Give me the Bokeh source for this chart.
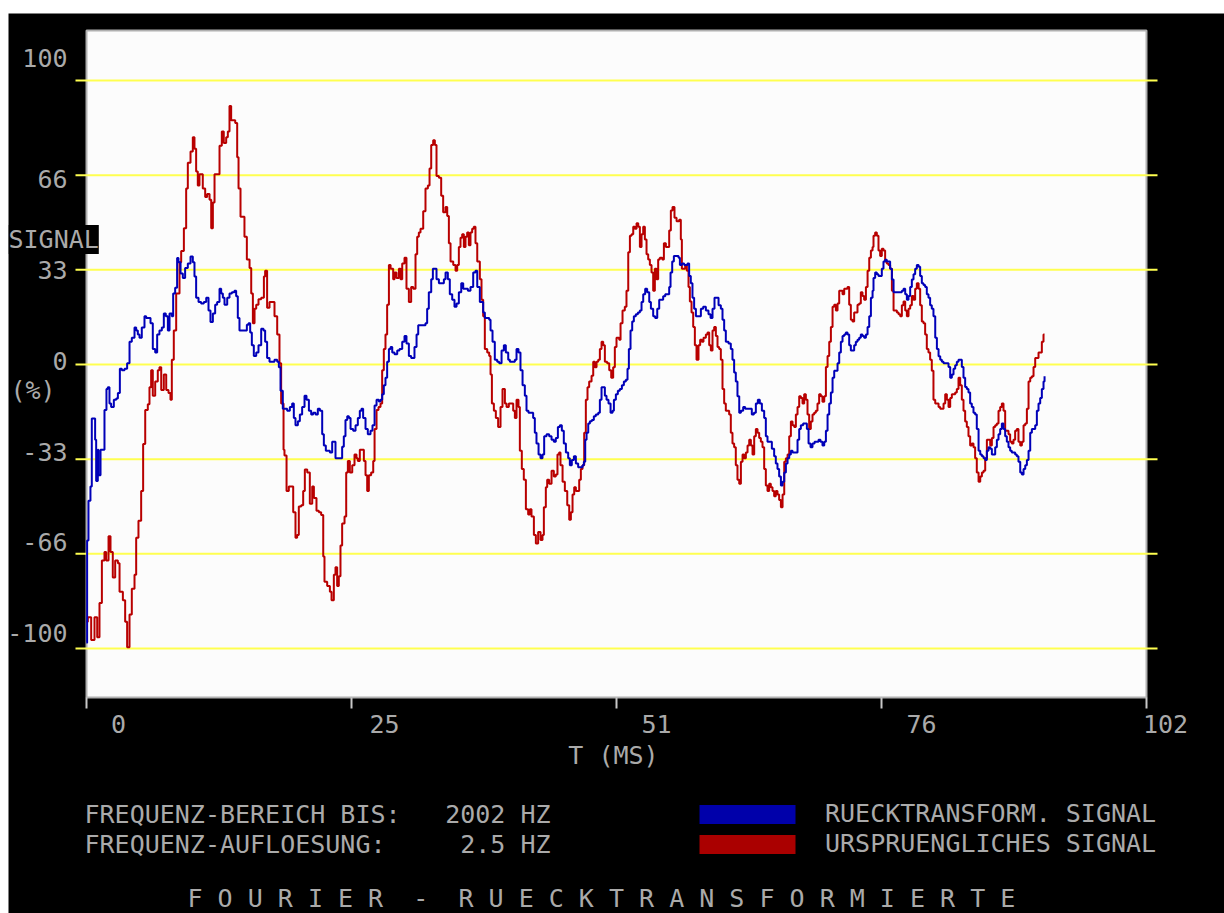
from bokeh.plotting import figure
from bokeh.models import Label, Legend, LegendItem, Range1d, Spacer
from bokeh.layouts import column, row
from bokeh.embed import file_html
from bokeh.resources import INLINE

# ---------------- data (time in ms, signal in %) ----------------
RED_T = [0.0, 0.13, 0.45, 0.77, 1.03, 1.25, 1.48, 1.73, 1.89, 2.12, 2.31, 2.53, 2.76, 3.02, 3.18, 3.50, 3.72, 3.91, 4.14, 4.36,
         4.62, 4.78, 5.00, 5.26, 5.45, 5.65, 5.90, 6.06, 6.22, 6.38, 6.61, 6.86, 7.02, 7.19, 7.44, 7.67, 7.89, 8.08, 8.21, 8.40,
         8.63, 8.95, 9.11, 9.37, 9.59, 9.75, 10.01, 10.23, 10.39, 10.55, 10.71, 10.87, 11.03, 11.19, 11.42, 11.61, 11.84, 12.00, 12.16, 12.32,
         12.64, 12.80, 13.02, 13.21, 13.44, 13.60, 13.76, 13.92, 14.15, 14.31, 14.50, 14.63, 14.82, 15.04, 15.20, 15.43, 15.69, 15.85, 16.01, 16.17,
         16.33, 16.55, 16.81, 17.07, 17.19, 17.38, 17.61, 17.83, 18.09, 18.35, 18.57, 18.73, 18.96,
         19.05, 19.25, 19.47, 19.70, 19.89, 20.11, 20.27, 20.43, 20.66, 20.85, 21.01, 21.24, 21.49, 21.72, 21.88, 22.13, 22.36, 22.58, 22.78, 22.90,
         23.16, 23.42, 23.58, 23.80, 23.96, 24.12, 24.28, 24.44, 24.60, 24.83, 24.99, 25.15, 25.34, 25.57, 25.79, 25.98, 26.11, 26.30, 26.53, 26.69,
         26.85, 27.01, 27.17, 27.39, 27.59, 27.72, 27.91, 28.10, 28.29, 28.45, 28.61, 28.77, 28.93, 29.10, 29.26, 29.51, 29.64, 29.83, 30.06, 30.22,
         30.38, 30.60, 30.79, 31.02, 31.24, 31.44, 31.66, 31.82, 31.98, 32.14, 32.40, 32.62, 32.85, 33.01, 33.17, 33.36, 33.52, 33.68, 33.91, 34.13,
         34.32, 34.55, 34.71, 34.87, 35.03, 35.29, 35.51, 35.67, 35.83, 35.99, 36.15, 36.31, 36.47, 36.63, 36.79, 36.95, 37.11, 37.27, 37.43, 37.60,
         37.85,
         38.01, 38.17, 38.33, 38.56, 38.75, 38.88, 39.01, 39.20, 39.39, 39.61, 39.84, 40.03, 40.26, 40.42, 40.64, 40.83, 41.06, 41.22, 41.38, 41.57,
         41.70, 41.89, 42.08, 42.28, 42.50, 42.66, 42.82, 43.05, 43.24, 43.46, 43.69, 43.88, 44.01, 44.20, 44.33, 44.52, 44.75, 44.97, 45.16, 45.32,
         45.48, 45.61, 45.81, 46.03, 46.26, 46.45, 46.61, 46.77, 46.93, 47.09, 47.25, 47.41, 47.57, 47.73, 47.89, 48.05, 48.21, 48.37, 48.60, 48.76,
         48.92, 49.08, 49.24, 49.40, 49.56, 49.72, 49.88, 50.10, 50.30, 50.49, 50.68, 50.84, 51.00, 51.26, 51.39, 51.58, 51.80, 51.96, 52.13, 52.29,
         52.45, 52.61, 52.77, 52.93, 53.09, 53.25, 53.41, 53.57, 53.73, 53.89, 54.05, 54.21, 54.37, 54.53, 54.69, 54.85, 55.01, 55.17, 55.40, 55.56,
         55.75, 55.91, 56.07, 56.23, 56.39, 56.58, 56.78,
         57.03, 57.19, 57.29, 57.45, 57.61, 57.77, 57.93, 58.06, 58.22, 58.38, 58.54, 58.70, 58.89, 59.05, 59.21, 59.37, 59.60, 59.76, 59.92, 60.08,
         60.24, 60.40, 60.56, 60.72, 60.88, 61.04, 61.20, 61.36, 61.52, 61.68, 61.84, 62.00, 62.16, 62.32, 62.48, 62.64, 62.81, 62.97, 63.13, 63.29,
         63.45, 63.61, 63.77, 63.93, 64.09, 64.25, 64.41, 64.57, 64.73, 64.89, 65.05, 65.21, 65.37, 65.53, 65.69, 65.85, 66.01, 66.17, 66.33, 66.49,
         66.65, 66.82, 66.98, 67.14, 67.30, 67.46, 67.62, 67.78, 67.94, 68.10, 68.26, 68.42, 68.58, 68.74, 68.90, 69.06, 69.22, 69.38, 69.54, 69.70,
         69.86, 70.02, 70.18, 70.34, 70.50, 70.66, 70.82, 70.99, 71.15, 71.31, 71.47, 71.63, 71.79, 71.95, 72.11, 72.27, 72.43, 72.59, 72.75, 72.91,
         73.07, 73.23, 73.39, 73.55, 73.71, 73.87, 74.03, 74.19, 74.35, 74.51, 74.67, 74.83, 75.00, 75.16, 75.32, 75.48, 75.64,
         75.73, 75.89, 76.05, 76.21, 76.37, 76.53, 76.69, 76.85, 77.01, 77.17, 77.33, 77.50, 77.66, 77.82, 77.98, 78.14, 78.30, 78.46, 78.62, 78.78,
         78.94, 79.10, 79.26, 79.42, 79.58, 79.74, 79.90, 80.07, 80.22, 80.38, 80.54, 80.70, 80.86, 81.02, 81.18, 81.34, 81.50, 81.67, 81.83, 81.99,
         82.15, 82.31, 82.47, 82.63, 82.79, 82.95, 83.11, 83.27, 83.43, 83.59, 83.75, 83.91, 84.07, 84.23, 84.39, 84.55, 84.71, 84.87, 85.03, 85.19,
         85.35, 85.51, 85.67, 85.84, 86.00, 86.16, 86.32, 86.48, 86.64, 86.80, 86.96, 87.12, 87.28, 87.44, 87.60, 87.76, 87.92, 88.08, 88.24, 88.40,
         88.56, 88.72, 88.88, 89.04, 89.20, 89.36, 89.52, 89.68, 89.85, 90.01, 90.17, 90.33, 90.49, 90.65, 90.81, 90.97, 91.13, 91.29, 91.45, 91.61,
         91.77, 91.93, 92.09, 92.19]

RED_V = [-90.6, -89, -97, -89, -96, -84, -69, -66, -69, -60.5, -66, -75, -69, -70, -80, -83, -90.6, -99.6, -88, -79,
         -74, -61, -55, -44.5, -28, -16, -14, -8, -2, -11, -6, -2, -1, -9, -3.5, -9, -10, -12.4, 1.7, 12,
         25, 36, 40, 48, 62, 71, 75, 80, 76, 68, 63, 67, 67, 62, 59, 60, 58, 48, 57, 67,
         67, 77, 82, 78, 80, 82, 91, 86, 86, 85, 73, 62, 52, 52, 45, 37, 34, 25, 14.5, 19.6,
         21, 23, 23.5, 31, 33, 20, 22, 22, 17, 10.6, 0.4, -13.7, -30,
         -32, -44.5, -43, -43, -52, -61, -60, -50, -49.6, -44.5, -37, -38, -49, -43, -47, -51.5, -52, -53, -67.6, -76.5,
         -78, -80, -83, -74, -71.4, -78, -74.6, -63.7, -56, -53.5, -38, -34, -38, -35.5, -31.7, -33, -34, -30, -30, -34,
         -39, -44.5, -39, -38, -34, -22.7, -16, -15, -13.7, -2, 5.5, 10.6, 21, 35, 33.7, 30, 32.4, 30.5, 33.7, 30,
         35.6, 37.6, 26.7, 22, 27.3, 26.7, 38.8, 45, 46.5, 47.8, 54, 62, 63, 69, 77.3, 79, 77.3, 66.4, 65.8, 59.4,
         53.6, 55.5, 52.3, 42.7, 36.3, 35, 33, 35, 41.4, 44.6, 45.9, 41.4, 45, 46.5, 42, 46.5, 47.8, 48.5, 42.7, 36.3,
         30,
         22.8, 17, 5.5, 4.2, 3, -3.5, -13.7, -16.3, -18.8, -22, -15, -8.6, -13.7, -15, -13.7, -13.7, -16.3, -18.8, -12.4, -15,
         -30.4, -36.8, -40.6, -51, -52.8, -51, -53.5, -60, -63, -59, -61.8, -60, -50.3, -43.2, -40.6, -42, -37.4, -39.4, -38.7, -31.7,
         -31, -35.5, -41.3, -44.5, -49.6, -54.7, -52, -45.8, -43.2, -44.5, -44.5, -40.6, -36.8, -35.5, -24, -12.4, -8, -6, -4, 1,
         -1, 1, 1.7, 5.5, 8, 6.8, 1, 0.4, -2, -4.7, -1, 6.2, 9.4, 8.7, 14.5, 19, 20.3, 26, 39.5, 45.3,
         45.9, 48.5, 47.8, 49.7, 48.5, 41.4, 45.9, 48.5, 44, 38.8, 37, 35, 32.4, 26, 33.7, 30, 37, 37.6, 37, 42.7,
         41.4, 41.4, 47.2, 54.2, 55.5, 51.7, 50.4,
         51, 44, 33.7, 33.7, 35, 33, 27.3, 22.2, 18.3, 13.2, 6.8, 1.7, 6.8, 8.7, 8, 9.4, 10.6, 11.3, 6.8, 4.9,
         12, 13.2, 10, 6.2, 5.5, 1.7, -8.6, -13.7, -16.3, -16.3, -17.6, -24, -27.8, -29.1, -35.5, -40.6, -42, -34.2, -31.7, -33,
         -31, -28.5, -26.5, -28.5, -31.7, -25.3, -22.7, -24, -25.9, -27.2, -29.1, -36.8, -42.6, -44.5, -42, -43.2, -44.5, -46.4, -44.5, -45.8,
         -47.7, -50.3, -45.8, -34.2, -33, -31.7, -25.3, -20.1, -21.4, -22, -17.6, -15, -11.2, -11.8, -13.7, -10.5, -12.4, -17.6, -22.7, -20.1,
         -17.6, -17, -16.3, -13.7, -10.5, -11.2, -13.1, -11.2, -0.9, 3, 8, 13.2, 20.3, 21, 19, 21.5, 26, 26, 24.7, 26.7,
         26.7, 27.3, 21, 15.8, 15.1, 18.3, 18.3, 21, 21.5, 25.4, 24.1, 22.8, 27.3, 33, 37.6, 40.1, 41.4,
         45.3, 46.5, 45.3, 40.1, 38.2, 40.8, 40.1, 36.3, 35.6, 35, 33.7, 26, 19, 19, 18.3, 17.7, 17, 20.9, 22.2, 19,
         17, 19.6, 20.9, 24.1, 22.8, 26.7, 28.6, 26.7, 20.9, 15.1, 14.5, 10.6, 5.5, 4.2, 1.7, -2.2, -12.4, -13.7, -13.7, -15,
         -15.6, -15.6, -13.7, -10.5, -12.4, -15, -11.8, -10.5, -10.5, -9.9, -8.6, -4.7, -7.3, -12.4, -16.3, -20.1, -22, -25.3, -28.5, -27.8,
         -29.1, -33, -38, -41.3, -39.4, -38, -37.4, -33, -26.5, -26.5, -28.5, -25.9, -22, -21.4, -20.8, -16.3, -15, -13.7, -16.3, -23.3,
         -23.3, -24.6, -27.2, -27.8, -26.5, -23.3, -22.7, -27.2, -28.5, -27.2, -21.4, -20.8, -15.6, -6, -4.7, -4.1, -0.9, 2.3, 2.3, 4.2,
         4.2, 8, 10.6, 10.6]

BLUE_T = [0.0, 0.06, 0.19, 0.38, 0.51, 0.71, 0.83, 0.93, 1.09, 1.15, 1.35, 1.57, 1.73, 1.92, 2.05, 2.21, 2.37, 2.63, 2.86, 3.02,
          3.21, 3.40, 3.66, 3.91, 4.14, 4.36, 4.62, 4.78, 4.94, 5.10, 5.32, 5.58, 5.74, 5.97, 6.16, 6.38, 6.61, 6.80, 7.02, 7.25,
          7.44, 7.63, 7.83, 7.99, 8.21, 8.34, 8.53, 8.72, 8.85, 9.05, 9.27, 9.49, 9.75, 10.01, 10.23, 10.39, 10.55, 10.78, 11.03, 11.29,
          11.52, 11.74, 11.93, 12.16, 12.38, 12.57, 12.80, 12.96, 13.12, 13.28, 13.54, 13.76, 13.99, 14.24, 14.40, 14.56, 14.72, 14.95, 15.20, 15.43,
          15.59, 15.75, 15.91, 16.10, 16.33, 16.55, 16.81, 17.03, 17.19, 17.38, 17.61, 17.83, 18.09, 18.35, 18.51, 18.67, 18.89, 19.05,
          19.31, 19.57, 19.79, 19.95, 20.11, 20.34, 20.53, 20.75, 20.98, 21.17, 21.40, 21.62, 21.81, 22.04, 22.26, 22.46, 22.68, 22.84, 23.03, 23.22,
          23.42, 23.64, 23.80, 23.96, 24.12, 24.38, 24.60, 24.76, 24.92, 25.09, 25.25, 25.41, 25.66, 25.89, 26.11, 26.30, 26.46, 26.62, 26.85, 27.07,
          27.33, 27.52, 27.72, 27.91, 28.13, 28.29, 28.45, 28.61, 28.77, 28.93, 29.10, 29.26, 29.42, 29.64, 29.90, 30.12, 30.38, 30.60, 30.79, 31.02,
          31.24, 31.44, 31.56, 31.76, 31.92, 32.14, 32.40, 32.62, 32.78, 32.94, 33.17, 33.33, 33.49, 33.68, 33.91, 34.13, 34.39, 34.55, 34.77, 34.96,
          35.19, 35.41, 35.61, 35.83, 36.06, 36.25, 36.47, 36.70, 36.95, 37.21, 37.43, 37.60, 37.85,
          38.17, 38.33, 38.56, 38.75, 38.88, 39.07, 39.29, 39.52, 39.71, 39.94, 40.16, 40.35, 40.58, 40.74, 40.99, 41.22, 41.38, 41.57, 41.76, 41.96,
          42.18, 42.34, 42.53, 42.76, 42.98, 43.14, 43.30, 43.50, 43.69, 43.88, 44.04, 44.27, 44.52, 44.75, 44.97, 45.16, 45.36, 45.55, 45.74, 45.93,
          46.13, 46.35, 46.51, 46.70, 46.90, 47.09, 47.31, 47.54, 47.73, 47.86, 47.99, 48.12, 48.28, 48.44, 48.63, 48.82, 49.01, 49.24, 49.40, 49.56,
          49.72, 49.88, 50.04, 50.23, 50.43, 50.62, 50.75, 50.94, 51.13, 51.32, 51.52, 51.71, 51.90, 52.06, 52.19, 52.35, 52.51, 52.67, 52.86, 53.06,
          53.25, 53.41, 53.57, 53.76, 53.95, 54.15, 54.31, 54.53, 54.72, 54.92, 55.11, 55.30, 55.49, 55.69, 55.88, 56.07, 56.20, 56.36, 56.52, 56.71,
          56.97, 57.10, 57.29, 57.51, 57.67, 57.83, 57.99, 58.15, 58.31, 58.47, 58.64, 58.89, 59.12, 59.34, 59.60, 59.85, 60.05, 60.24, 60.43, 60.62,
          60.82, 61.04, 61.20, 61.36, 61.52, 61.78, 62.00, 62.16, 62.32, 62.48, 62.64, 62.81, 62.97, 63.19, 63.38, 63.61, 63.83, 64.02, 64.22, 64.41,
          64.60, 64.79, 64.99, 65.21, 65.37, 65.53, 65.76, 65.95, 66.17, 66.33, 66.49, 66.65, 66.82, 66.98, 67.14, 67.30, 67.46, 67.62, 67.78, 67.94,
          68.10, 68.26, 68.42, 68.58, 68.74, 68.96, 69.16, 69.32, 69.48, 69.67, 69.86, 70.06, 70.25, 70.44, 70.63, 70.82, 70.99, 71.15, 71.31, 71.47,
          71.63, 71.79, 71.95, 72.11, 72.27, 72.43, 72.59, 72.75, 72.91, 73.07, 73.23, 73.39, 73.55, 73.71, 73.87, 74.03, 74.19, 74.35, 74.51, 74.67,
          74.83, 75.00, 75.16, 75.32, 75.48, 75.64,
          75.73, 75.89, 76.05, 76.21, 76.37, 76.53, 76.69, 76.85, 77.01, 77.17, 77.33, 77.50, 77.66, 77.82, 78.07, 78.30, 78.46, 78.62, 78.78, 78.94,
          79.10, 79.26, 79.42, 79.58, 79.74, 79.90, 80.07, 80.22, 80.38, 80.54, 80.70, 80.86, 81.02, 81.18, 81.34, 81.50, 81.67, 81.83, 81.99, 82.15,
          82.31, 82.47, 82.63, 82.79, 82.95, 83.11, 83.27, 83.43, 83.59, 83.75, 83.91, 84.07, 84.23, 84.39, 84.55, 84.71, 84.87, 85.03, 85.19, 85.35,
          85.51, 85.67, 85.84, 86.00, 86.16, 86.32, 86.48, 86.64, 86.80, 86.96, 87.12, 87.28, 87.44, 87.60, 87.76, 87.92, 88.08, 88.24, 88.40, 88.56,
          88.72, 88.88, 89.04, 89.20, 89.36, 89.52, 89.68, 89.85, 90.01, 90.17, 90.33, 90.49, 90.65, 90.81, 90.97, 91.13, 91.29, 91.45, 91.61, 91.77,
          91.93, 92.09, 92.19]

BLUE_V = [-98, -62, -48, -43, -19, -19, -26.5, -41, -30, -39, -30, -30, -16, -8.6, -8, -13.7, -15, -12.4, -12, -10,
          -1.5, -2, -1.5, 0.4, 8, 9.4, 13, 12, 10.6, 9.4, 13, 17, 16.4, 16.4, 14.5, 5.5, 4.2, 10.6, 12, 13,
          18, 17, 12, 18, 17, 25, 27, 37.5, 36, 32, 30.5, 34, 35.6, 38, 36, 31, 23.5, 22, 21.5, 22,
          23.5, 19, 15, 18, 21, 22, 26.7, 25, 23.5, 21, 23.5, 25, 25.4, 26, 24, 16.4, 12, 12, 12, 14,
          14.5, 11.3, 6.8, 3, 4.2, 6.8, 12.6, 12, 8, 2.3, 1, 1, 1.7, 1, -1, -9.2, -15.6, -15.6,
          -16.3, -15, -13.7, -18.8, -21.4, -20, -17.6, -15, -11, -12.4, -16.3, -17.6, -17, -17.6, -15.6, -16.3, -24.6, -28.5, -30.4, -30.4,
          -31, -27.2, -27.2, -33, -33, -33, -29, -25.3, -19.5, -18.2, -18.8, -22.7, -23.3, -21.4, -18.8, -16.3, -15.6, -18.8, -22.7, -24.6,
          -23.3, -21.4, -14.4, -12.4, -13, -12.4, -10.5, -7.3, -4.7, 1, 5.5, 6.2, 4.2, 3.6, 4.9, 5.5, 8, 10, 7.4, 3,
          2.3, 2.3, 6.2, 10.6, 13.8, 13.8, 13.8, 14.5, 19.6, 25.4, 30, 33.7, 33.7, 30, 28.6, 28.6, 30, 32.4, 30, 24.7,
          22.8, 20.3, 21.5, 25.4, 28.6, 26.7, 26.7, 26, 27.3, 32.4, 33, 27.3, 22,
          18.3, 16.4, 16.4, 15.8, 12, 8, 1.7, 1, 0.4, 4.9, 6.8, 4.2, 1.7, 1, 1, 1.7, 5.5, 4.2, -2, -7.3,
          -11, -16.3, -17, -17, -18.8, -24, -27.8, -31.7, -33, -31.7, -25.3, -24.6, -25.3, -26.5, -27.2, -25.9, -22, -21.4, -23.3, -27.8,
          -31, -33, -35.5, -33.6, -32.3, -34.9, -36.2, -36.2, -35.5, -34.2, -26.5, -24, -20.8, -20, -19.5, -18.2, -17.6, -17, -12.4, -8,
          -8, -11, -12.4, -13.7, -17, -16.3, -12.4, -10.5, -9.2, -8.6, -7.3, -6, -5.4, -1.5, 5.5, 12, 15.1, 17, 17.7, 18.3,
          19, 22, 24.7, 26.7, 25.4, 22, 19.6, 17, 16.4, 19.6, 22.8, 22.8, 24, 24.7, 24.7, 27.3, 32.4, 36.3, 38.2, 38.2,
          37.6, 35, 35.6, 35, 35, 35.6, 31.2, 28.6, 23.5, 19.6, 17, 17, 19.6, 20.3, 19, 17.7, 16.4, 19.6, 23.5, 23.5,
          20.9, 19.6, 15.8, 12, 8, 7.4, 5.5, 1.7, -2.8, -6, -11.2, -17, -16.3, -15, -15.6, -15.6, -15.6, -17.6, -17, -13.7,
          -12.4, -13.7, -16.3, -18.8, -25.3, -27.2, -27.2, -29.7, -32.3, -34.9, -36.8, -39.4, -42.6, -41.3, -38, -34.9, -33, -31.7, -30.4, -31,
          -31, -31, -26.5, -22.7, -21.4, -20.8, -20.8, -22.7, -27.8, -29.1, -27.8, -27.2, -27.2, -26.5, -27.2, -28.5, -27.2, -23.3, -17.6, -13.7,
          -9.9, -4.7, -2.2, -2.2, 0.4, 4.2, 8, 10, 10.6, 11.3, 10.6, 6.8, 4.9, 4.9, 6.8, 8, 8.7, 9.4, 10.6, 10,
          9.4, 10.6, 13.2, 17, 23.5, 26,
          30.5, 32.4, 31.8, 31.2, 31.2, 33.7, 36.3, 36.9, 36.3, 36.3, 33.7, 29.9, 25.4, 25.4, 25.4, 25.4, 26, 26.7, 24.7, 22.8,
          24.1, 27.3, 29.9, 31.8, 33.7, 35, 34.4, 31.2, 28.6, 28, 27.3, 24.7, 23.5, 20.9, 19.6, 17, 9.4, 5.5, 2.9, 1.7,
          1, 0.4, 0.4, 0.4, -0.9, -4.7, -3.5, -1.5, -0.3, 1, 1.7, 1.7, -0.9, -4.7, -7.9, -8.6, -9.9, -13.7, -15, -17,
          -17.6, -22.7, -30.4, -31.7, -32.3, -33, -33.6, -30.4, -29.1, -29.7, -31.7, -31.7, -29.1, -26.5, -24.6, -22.7, -20.8, -22.7, -25.3, -27.2,
          -29.1, -30.4, -31, -31, -31.7, -32.3, -34.2, -38, -38.7, -36.8, -35.5, -33.6, -30.4, -24, -22.7, -22.7, -21.4, -16.3, -13.7, -11.8,
          -8.6, -6, -4.1]

X_TICKS = [0, 25.5, 51, 76.5, 102]
X_TICK_LABELS = ["0", "25", "51", "76", "102"]
Y_GRID = [100, 200 / 3, 100 / 3, 0, -100 / 3, -200 / 3, -100]
Y_TICK_LABELS = ["100", "66", "33", "0", "-33", "-66", "-100"]
SERIES_NAMES = ["RUECKTRANSFORM. SIGNAL", "URSPRUENGLICHES SIGNAL"]
INFO_LABELS = ["FREQUENZ-BEREICH BIS:", "FREQUENZ-AUFLOESUNG:"]
INFO_VALUES = ["2002 HZ", "2.5 HZ"]
TITLE = "F O U R I E R  -  R U E C K T R A N S F O R M I E R T E"

# ---------------- styling / layout ----------------
FONT = "DejaVu Sans Mono"
FSIZE = "25px"
TXT = "#AAAAAA"
YELLOW = "#FFFF50"
BLUE_LINE, RED_LINE = "#0000B8", "#B80000"
BLUE_BOX, RED_BOX = "#0000AA", "#AA0000"
NBSP = "\u00a0"

# the screen (black canvas) occupies page x 8..1224, y 13..913
SX0, SY0 = 8, 13
W, H = 1216, 900
# page geometry of the plot area
FX0, FX1, FY0, FY1 = 86, 1146, 30, 697
ZERO_Y, PX_PER_PCT = 364, 2.84


def tx(px):
    return X_TICKS[0] + (px - FX0) * (X_TICKS[-1] - X_TICKS[0]) / (FX1 - FX0)


def vy(py):
    return (ZERO_Y - py) / PX_PER_PCT


p = figure(width=W, height=H, output_backend="svg", toolbar_location=None,
           x_range=Range1d(tx(SX0), tx(SX0 + W)), y_range=Range1d(vy(SY0 + H), vy(SY0)),
           x_axis_type=None, y_axis_type=None,
           min_border_left=0, min_border_right=0, min_border_top=0, min_border_bottom=0,
           background_fill_color="black", border_fill_color="black", outline_line_color=None)
p.xgrid.visible = False
p.ygrid.visible = False

# plot area (white screen rectangle)
p.quad(left=[X_TICKS[0]], right=[X_TICKS[-1]], bottom=[vy(FY1)], top=[vy(FY0)],
       fill_color="#FCFCFC", line_color="#B0B0B0", line_width=2)
# yellow grid lines reaching slightly past the plot area
p.segment(x0=[tx(FX0 - 11)] * len(Y_GRID), x1=[tx(FX1 + 11)] * len(Y_GRID),
          y0=Y_GRID, y1=Y_GRID, line_color=YELLOW, line_width=2)
# x tick marks
p.segment(x0=X_TICKS, x1=X_TICKS, y0=[vy(FY1)] * len(X_TICKS), y1=[vy(FY1 + 11)] * len(X_TICKS),
          line_color="#C8C8C8", line_width=2)

red = p.step(RED_T, RED_V, mode="after", line_color=RED_LINE, line_width=2)
blue = p.step(BLUE_T, BLUE_V, mode="after", line_color=BLUE_LINE, line_width=2)
# legend swatch proxies (no visible data of their own)
NAN = float("nan")
blue_box = p.quad(left=[NAN], right=[NAN], top=[NAN], bottom=[NAN], fill_color=BLUE_BOX, line_color=None)
red_box = p.quad(left=[NAN], right=[NAN], top=[NAN], bottom=[NAN], fill_color=RED_BOX, line_color=None)


def lab(text, px, py, align="left", **kw):
    p.add_layout(Label(x=tx(px), y=vy(py), text=text, text_font=FONT, text_font_size=FSIZE,
                       text_color=TXT, text_align=align, text_baseline="middle", **kw))


# y tick labels (DOS character grid rows)
for txt, py in zip(Y_TICK_LABELS, [57.5, 178.5, 269, 360.5, 451.5, 541.5, 632]):
    lab(txt, 67, py, "right")
lab("SIGNAL", 8, 239, background_fill_color="black")
lab("(%)", 10, 390)

# x tick labels and axis title
for txt, px in zip(X_TICK_LABELS, [118, 384, 656, 921, 1165]):
    lab(txt, px, 723, "center")
lab("T (MS)", 613, 755, "center")

# info block
for txt, py in zip(INFO_LABELS, [814, 844]):
    lab(txt, 84, py)
for txt, py in zip(INFO_VALUES, [814, 844]):
    lab(txt, 550, py, "right")

# legend (location = bottom-left corner in px from the canvas bottom-left);
# area legend glyphs are inset by 10 %, so the glyph box is 1/0.8 of the swatch
legend = Legend(items=[LegendItem(label=SERIES_NAMES[0], renderers=[blue_box]),
                       LegendItem(label=SERIES_NAMES[1], renderers=[red_box])],
                location=(687 - SX0, SY0 + H - 858), orientation="vertical",
                glyph_width=120, glyph_height=24, label_standoff=18, spacing=1,
                padding=0, margin=0, border_line_color=None, background_fill_alpha=0,
                label_text_font=FONT, label_text_font_size=FSIZE, label_text_color=TXT)
p.add_layout(legend)

# bottom title (non-breaking spaces so the SVG keeps the wide letter spacing)
lab(TITLE.replace(" ", NBSP), 187, 898)

layout = column(Spacer(width=SX0 + W, height=SY0), row(Spacer(width=SX0, height=H), p))
open("out.html", "w").write(file_html(layout, INLINE))
